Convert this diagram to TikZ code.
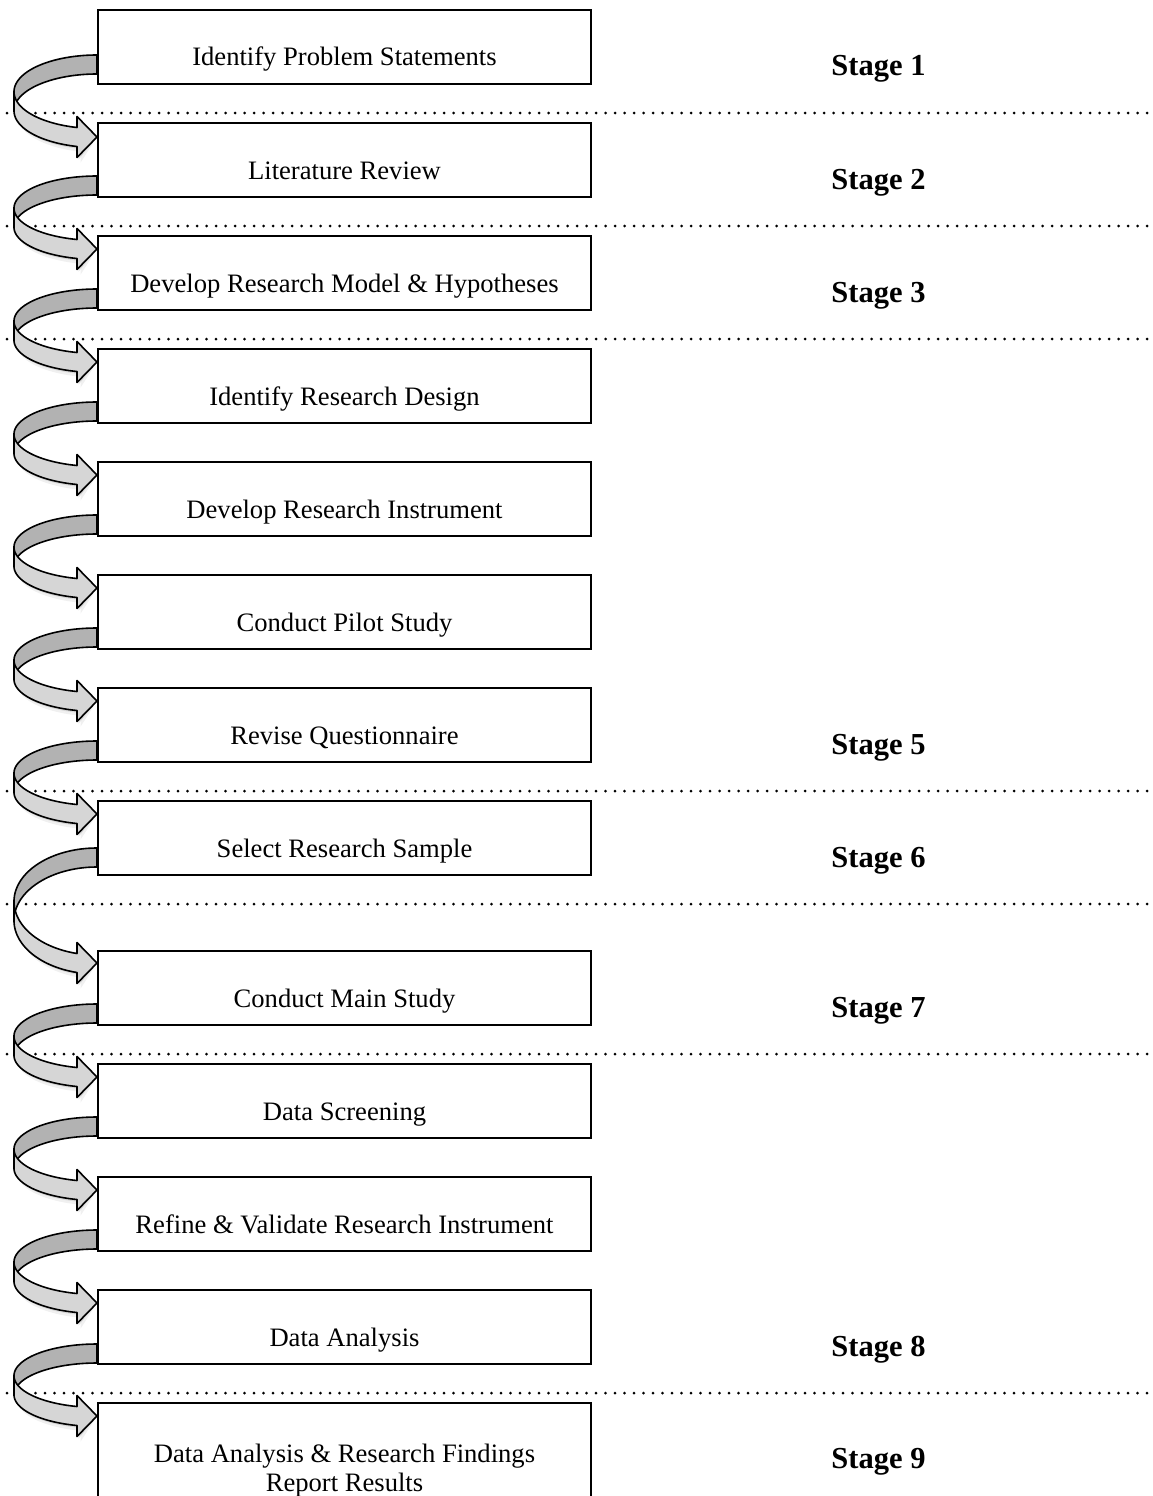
\documentclass[tikz,border=0pt]{standalone}
\usepackage{fontspec}
\setmainfont{Liberation Serif}
\usetikzlibrary{calc}
\definecolor{bandback}{RGB}{178,178,178}
\definecolor{bandfront}{RGB}{214,214,214}

% Ribbon arrow that curls round the left side from box #1 down to box #2.
% #3: offset of the ribbon's upper edge below the top of #1,
% #4: offset of the arrow tip below the top of #2.
\newcommand\bandarrow[4]{%
  \path (#1.north west); \pgfgetlastxy{\arXa}{\arYa}%
  \path (#2.north west); \pgfgetlastxy{\arXb}{\arYb}%
  \pgfmathsetmacro\arR{\arXa-1}%
  \pgfmathsetmacro\arT{#3-(\arYa)}%
  \pgfmathsetmacro\arP{#4-(\arYb)}%
  \pgfmathsetmacro\arH{(\arP-9.5-\arT)/1.9705}%
  \pgfmathsetmacro\arCA{\arT+\arH}%
  \pgfmathsetmacro\arCB{\arCA+19}%
  \pgfmathsetmacro\arE{180-asin(20/83)}%
  \coordinate (#1-tail) at (\arR,\arT);
  \coordinate (#2-tip) at (\arR,\arP);
  % soft shadow under the lower ribbon
  \foreach \s/\o in {1.5/0.10,3.5/0.06}{%
    \fill[black,opacity=\o,shift={(\s,1.5*\s)}]
      plot[domain=90:\arE,samples=50] ({\arR-83*sin(\x)},{\arCA-\arH*cos(\x)})
      -- ({\arR-20},{\arP-20.5}) -- (#2-tip) -- ({\arR-20},{\arP+20.5})
      -- plot[domain=\arE:90,samples=50] ({\arR-83*sin(\x)},{\arCB-\arH*cos(\x)})
      -- cycle;}
  % back of the ribbon (upper half)
  \draw[ribbonback]
    plot[domain=0:90,samples=50] ({\arR-83*sin(\x)},{\arCA-\arH*cos(\x)})
    -- plot[domain=90:0,samples=50] ({\arR-83*sin(\x)},{\arCB-\arH*cos(\x)})
    -- cycle;
  % front of the ribbon with the arrow head
  \draw[ribbonfront]
    plot[domain=90:\arE,samples=50] ({\arR-83*sin(\x)},{\arCA-\arH*cos(\x)})
    -- ({\arR-20},{\arP-20.5}) -- (#2-tip) -- ({\arR-20},{\arP+20.5})
    -- plot[domain=\arE:90,samples=50] ({\arR-83*sin(\x)},{\arCB-\arH*cos(\x)})
    -- cycle;
}

\begin{document}
\begin{tikzpicture}[x=1pt,y=-1pt,
  stepbox/.style={draw=black,line width=2.4pt,minimum width=493pt,
    minimum height=74pt,inner sep=0pt,outer sep=0pt,anchor=north west},
  steptext/.style={font=\fontsize{26.6}{29}\selectfont,anchor=base,align=center},
  stagetext/.style={font=\fontsize{30.5}{34}\selectfont\bfseries,anchor=base},
  divider/.style={line width=3pt,line cap=round,dash pattern=on 0pt off 9.5pt},
  ribbonback/.style={fill=bandback,draw=black,line width=1.6pt,line join=round},
  ribbonfront/.style={fill=bandfront,draw=black,line width=1.6pt,line join=round}]

\useasboundingbox (0,0) rectangle (1153,1496);
\clip (0,0) rectangle (1153,1496);

% process steps
\node[stepbox] (b1)  at (98,10)   {};
\node[stepbox] (b2)  at (98,123)  {};
\node[stepbox] (b3)  at (98,236)  {};
\node[stepbox] (b4)  at (98,349)  {};
\node[stepbox] (b5)  at (98,462)  {};
\node[stepbox] (b6)  at (98,575)  {};
\node[stepbox] (b7)  at (98,688)  {};
\node[stepbox] (b8)  at (98,801)  {};
\node[stepbox] (b9)  at (98,951)  {};
\node[stepbox] (b10) at (98,1064) {};
\node[stepbox] (b11) at (98,1177) {};
\node[stepbox] (b12) at (98,1290) {};
\node[stepbox,minimum height=130pt] (b13) at (98,1403) {};

% stage separators
\foreach \b in {b1,b2,b3,b7,b8,b9,b12}
  \draw[divider] ($(\b.north west)+(-91,103)$) -- ($(\b.north west)+(1055,103)$);

% step labels
\node[steptext] (t1)  at ($(b1.north)+(0,56)$)  {Identify Problem Statements};
\node[steptext] (t2)  at ($(b2.north)+(0,56)$)  {Literature Review};
\node[steptext] (t3)  at ($(b3.north)+(0,56)$)  {Develop Research Model \& Hypotheses};
\node[steptext] (t4)  at ($(b4.north)+(0,56)$)  {Identify Research Design};
\node[steptext] (t5)  at ($(b5.north)+(0,56)$)  {Develop Research Instrument};
\node[steptext] (t6)  at ($(b6.north)+(0,56)$)  {Conduct Pilot Study};
\node[steptext] (t7)  at ($(b7.north)+(0,56)$)  {Revise Questionnaire};
\node[steptext] (t8)  at ($(b8.north)+(0,56)$)  {Select Research Sample};
\node[steptext] (t9)  at ($(b9.north)+(0,56)$)  {Conduct Main Study};
\node[steptext] (t10) at ($(b10.north)+(0,56)$) {Data Screening};
\node[steptext] (t11) at ($(b11.north)+(0,56)$) {Refine \& Validate Research Instrument};
\node[steptext] (t12) at ($(b12.north)+(0,56)$) {Data Analysis};
\node[steptext,anchor=north] (t13) at ($(b13.north)+(0,37.6)$)
  {Data Analysis \& Research Findings\\Report Results};

% stage labels
\node[stagetext] (s1) at ($(b1.north)+(534,66)$)  {Stage 1};
\node[stagetext] (s2) at ($(b2.north)+(534,66)$)  {Stage 2};
\node[stagetext] (s3) at ($(b3.north)+(534,66)$)  {Stage 3};
\node[stagetext] (s5) at ($(b7.north)+(534,66)$)  {Stage 5};
\node[stagetext] (s6) at ($(b8.north)+(534,66)$)  {Stage 6};
\node[stagetext] (s7) at ($(b9.north)+(534,66)$)  {Stage 7};
\node[stagetext] (s8) at ($(b12.north)+(534,66)$) {Stage 8};
\node[stagetext] (s9) at ($(b13.north)+(534,65)$) {Stage 9};

% curled arrows between consecutive steps
\bandarrow{b1}{b2}{45}{14}
\bandarrow{b2}{b3}{53}{13}
\bandarrow{b3}{b4}{53}{13}
\bandarrow{b4}{b5}{53}{13}
\bandarrow{b5}{b6}{53}{13}
\bandarrow{b6}{b7}{53}{13}
\bandarrow{b7}{b8}{53}{13}
\bandarrow{b8}{b9}{47}{12}
\bandarrow{b9}{b10}{53}{13}
\bandarrow{b10}{b11}{53}{13}
\bandarrow{b11}{b12}{53}{13}
\bandarrow{b12}{b13}{54}{13}

\end{tikzpicture}
\end{document}
